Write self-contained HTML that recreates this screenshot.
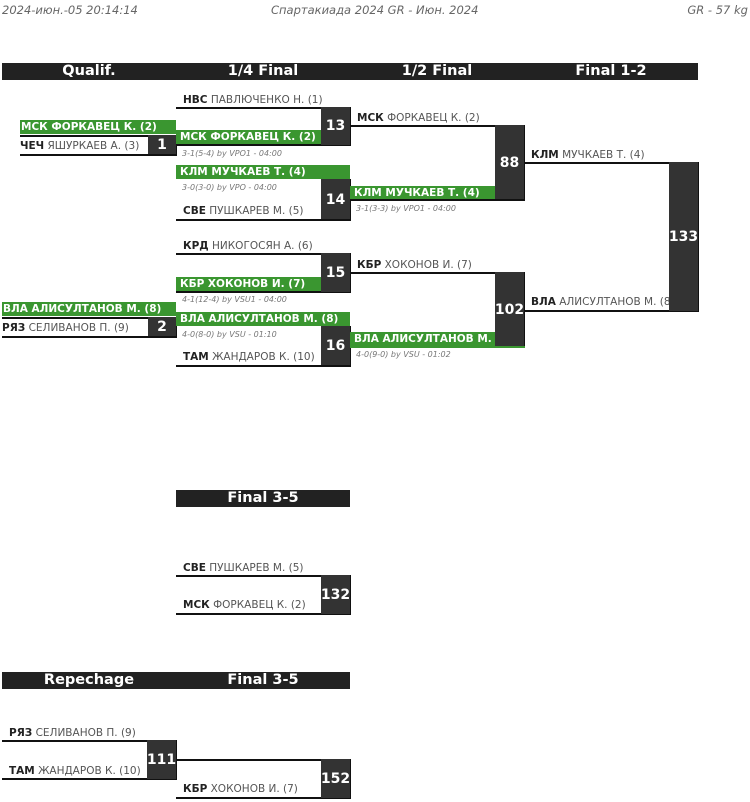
<!DOCTYPE html>
<html><head><meta charset="utf-8"><style>
body{margin:0;width:750px;height:802px;position:relative;background:#fff;font-family:"DejaVu Sans","Liberation Sans",sans-serif;overflow:hidden}
div{position:absolute;box-sizing:border-box}
.hd{background:#222;height:17px;color:#fff;font-weight:bold;font-size:14.5px;line-height:17px;text-align:center}
.l{background:#111;height:2px}
.b{background:#333;color:#fff;font-weight:bold;font-size:14px;display:flex;align-items:center;justify-content:center;border-right:1px solid #111;border-bottom:1px solid #111}
.t{font-size:10.5px;color:#555;white-space:nowrap;line-height:12px;overflow:hidden}
.t b{color:#222}
.g{background:#3a9630;color:#fff;font-weight:bold;font-size:10.5px;line-height:14px;height:14px;white-space:nowrap;padding-left:4px;overflow:hidden}
.s{font-size:8px;color:#777;font-style:italic;white-space:nowrap}
.top{font-size:11.5px;color:#666;font-style:italic;top:3px}
</style></head><body>
<div class="top" style="left:2px">2024-июн.-05 20:14:14</div>
<div class="top" style="left:271px">Спартакиада 2024 GR - Июн. 2024</div>
<div class="top" style="right:2px">GR - 57 kg</div>

<div class="hd" style="left:2px;top:63px;width:696px"></div>
<div class="hd" style="left:2px;top:63px;width:174px;background:none">Qualif.</div>
<div class="hd" style="left:176px;top:63px;width:174px;background:none">1/4 Final</div>
<div class="hd" style="left:350px;top:63px;width:174px;background:none">1/2 Final</div>
<div class="hd" style="left:524px;top:63px;width:174px;background:none">Final 1-2</div>

<!-- match 1 -->
<div class="g" style="left:20px;top:120px;width:156px;padding-left:1px">МСК ФОРКАВЕЦ К. (2)</div>
<div class="l" style="left:20px;top:135px;width:156px"></div>
<div class="t" style="left:20px;top:140px"><b>ЧЕЧ</b> ЯШУРКАЕВ А. (3)</div>
<div class="b" style="left:148px;top:135px;width:29px;height:21px">1</div>
<div class="l" style="left:20px;top:154px;width:157px"></div>

<!-- match 13 -->
<div class="t" style="left:183px;top:94px"><b>НВС</b> ПАВЛЮЧЕНКО Н. (1)</div>
<div class="l" style="left:176px;top:107px;width:174px"></div>
<div class="g" style="left:176px;top:130px;width:146px">МСК ФОРКАВЕЦ К. (2)</div>
<div class="l" style="left:176px;top:144px;width:175px"></div>
<div class="b" style="left:321px;top:107px;width:30px;height:39px">13</div>
<div class="s" style="left:182px;top:149px">3-1(5-4) by VPO1 - 04:00</div>

<!-- match 14 -->
<div class="g" style="left:176px;top:165px;width:174px">КЛМ МУЧКАЕВ Т. (4)</div>
<div class="s" style="left:182px;top:183px">3-0(3-0) by VPO - 04:00</div>
<div class="b" style="left:321px;top:179px;width:30px;height:42px">14</div>
<div class="t" style="left:183px;top:205px"><b>СВЕ</b> ПУШКАРЁВ М. (5)</div>
<div class="l" style="left:176px;top:219px;width:175px"></div>

<!-- match 88 -->
<div class="t" style="left:357px;top:112px"><b>МСК</b> ФОРКАВЕЦ К. (2)</div>
<div class="l" style="left:350px;top:125px;width:174px"></div>
<div class="g" style="left:350px;top:186px;width:146px">КЛМ МУЧКАЕВ Т. (4)</div>
<div class="b" style="left:495px;top:125px;width:30px;height:76px">88</div>
<div class="l" style="left:350px;top:199px;width:175px"></div>
<div class="s" style="left:356px;top:204px">3-1(3-3) by VPO1 - 04:00</div>

<!-- match 133 -->
<div class="t" style="left:531px;top:149px"><b>КЛМ</b> МУЧКАЕВ Т. (4)</div>
<div class="l" style="left:524px;top:162px;width:174px"></div>
<div class="t" style="left:531px;top:296px;width:139px"><b>ВЛА</b> АЛИСУЛТАНОВ М. (8)</div>
<div class="l" style="left:524px;top:310px;width:175px"></div>
<div class="b" style="left:669px;top:162px;width:30px;height:150px">133</div>

<!-- match 15 -->
<div class="t" style="left:183px;top:240px"><b>КРД</b> НИКОГОСЯН А. (6)</div>
<div class="l" style="left:176px;top:253px;width:174px"></div>
<div class="g" style="left:176px;top:277px;width:146px">КБР ХОКОНОВ И. (7)</div>
<div class="l" style="left:176px;top:291px;width:175px"></div>
<div class="b" style="left:321px;top:253px;width:30px;height:40px">15</div>
<div class="s" style="left:182px;top:295px">4-1(12-4) by VSU1 - 04:00</div>

<!-- match 2 -->
<div class="g" style="left:2px;top:302px;width:174px;padding-left:1px">ВЛА АЛИСУЛТАНОВ М. (8)</div>
<div class="l" style="left:2px;top:317px;width:174px"></div>
<div class="t" style="left:2px;top:322px"><b>РЯЗ</b> СЕЛИВАНОВ П. (9)</div>
<div class="b" style="left:148px;top:317px;width:29px;height:21px">2</div>
<div class="l" style="left:2px;top:336px;width:175px"></div>

<!-- match 16 -->
<div class="g" style="left:176px;top:312px;width:174px">ВЛА АЛИСУЛТАНОВ М. (8)</div>
<div class="s" style="left:182px;top:330px">4-0(8-0) by VSU - 01:10</div>
<div class="b" style="left:321px;top:326px;width:30px;height:41px">16</div>
<div class="t" style="left:183px;top:351px"><b>ТАМ</b> ЖАНДАРОВ К. (10)</div>
<div class="l" style="left:176px;top:365px;width:175px"></div>

<!-- match 102 -->
<div class="t" style="left:357px;top:259px"><b>КБР</b> ХОКОНОВ И. (7)</div>
<div class="l" style="left:350px;top:272px;width:174px"></div>
<div class="g" style="left:350px;top:332px;width:146px">ВЛА АЛИСУЛТАНОВ М.</div>
<div class="b" style="left:495px;top:272px;width:30px;height:76px">102</div>
<div class="l" style="left:350px;top:346px;width:175px;background:#3a9630"></div>
<div class="s" style="left:356px;top:350px">4-0(9-0) by VSU - 01:02</div>

<!-- Final 3-5 -->
<div class="hd" style="left:176px;top:490px;width:174px">Final 3-5</div>
<div class="t" style="left:183px;top:562px"><b>СВЕ</b> ПУШКАРЁВ М. (5)</div>
<div class="l" style="left:176px;top:575px;width:174px"></div>
<div class="t" style="left:183px;top:599px"><b>МСК</b> ФОРКАВЕЦ К. (2)</div>
<div class="l" style="left:176px;top:613px;width:175px"></div>
<div class="b" style="left:321px;top:575px;width:30px;height:40px">132</div>

<!-- Repechage -->
<div class="hd" style="left:2px;top:672px;width:348px"></div>
<div class="hd" style="left:2px;top:672px;width:174px;background:none">Repechage</div>
<div class="hd" style="left:176px;top:672px;width:174px;background:none">Final 3-5</div>

<div class="t" style="left:9px;top:727px"><b>РЯЗ</b> СЕЛИВАНОВ П. (9)</div>
<div class="l" style="left:2px;top:740px;width:174px"></div>
<div class="t" style="left:9px;top:765px"><b>ТАМ</b> ЖАНДАРОВ К. (10)</div>
<div class="l" style="left:2px;top:778px;width:175px"></div>
<div class="b" style="left:147px;top:740px;width:30px;height:40px">111</div>

<div class="l" style="left:176px;top:759px;width:174px"></div>
<div class="t" style="left:183px;top:783px"><b>КБР</b> ХОКОНОВ И. (7)</div>
<div class="l" style="left:176px;top:797px;width:175px"></div>
<div class="b" style="left:321px;top:759px;width:30px;height:40px">152</div>
</body></html>
